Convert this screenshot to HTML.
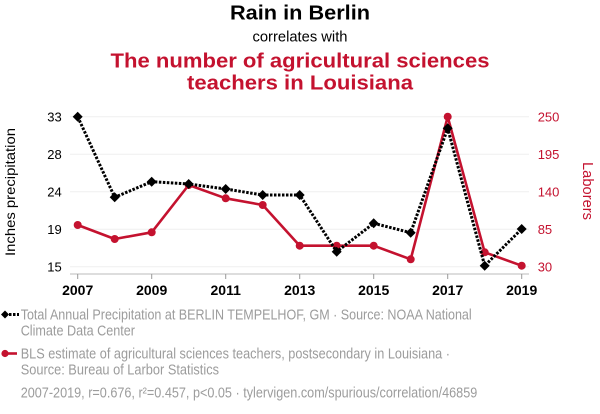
<!DOCTYPE html>
<html><head><meta charset="utf-8"><style>
html,body{margin:0;padding:0;background:#fff;}
svg{display:block;}
text{font-family:"Liberation Sans",Arial,sans-serif;}
</style></head><body>
<svg width="600" height="414" viewBox="0 0 600 414" xmlns="http://www.w3.org/2000/svg">
<rect width="600" height="414" fill="#fff"/>
<!-- titles -->
<text x="300" y="19.5" text-anchor="middle" font-size="20" font-weight="bold" fill="#000" textLength="140" lengthAdjust="spacingAndGlyphs">Rain in Berlin</text>
<text x="300" y="41.7" text-anchor="middle" font-size="14.5" fill="#000" textLength="95" lengthAdjust="spacingAndGlyphs">correlates with</text>
<text x="300" y="67.7" text-anchor="middle" font-size="20" font-weight="bold" fill="#c4122f" textLength="379" lengthAdjust="spacingAndGlyphs">The number of agricultural sciences</text>
<text x="300" y="89.3" text-anchor="middle" font-size="20" font-weight="bold" fill="#c4122f" textLength="226" lengthAdjust="spacingAndGlyphs">teachers in Louisiana</text>
<!-- gridlines -->
<g stroke="#efefef" stroke-width="1">
<line x1="70" y1="116.7" x2="529" y2="116.7"/>
<line x1="70" y1="154.2" x2="529" y2="154.2"/>
<line x1="70" y1="191.7" x2="529" y2="191.7"/>
<line x1="70" y1="229.2" x2="529" y2="229.2"/>
<line x1="70" y1="266.7" x2="529" y2="266.7"/>
</g>
<!-- x axis -->
<line x1="70" y1="274" x2="529" y2="274" stroke="#bbb" stroke-width="1"/>
<g stroke="#999" stroke-width="1">
<line x1="77.7" y1="274" x2="77.7" y2="279"/>
<line x1="151.7" y1="274" x2="151.7" y2="279"/>
<line x1="225.7" y1="274" x2="225.7" y2="279"/>
<line x1="299.7" y1="274" x2="299.7" y2="279"/>
<line x1="373.7" y1="274" x2="373.7" y2="279"/>
<line x1="447.7" y1="274" x2="447.7" y2="279"/>
<line x1="521.7" y1="274" x2="521.7" y2="279"/>
</g>
<g font-size="14" font-weight="bold" fill="#000" text-anchor="middle">
<text x="77.7" y="295">2007</text>
<text x="151.7" y="295">2009</text>
<text x="225.7" y="295">2011</text>
<text x="299.7" y="295">2013</text>
<text x="373.7" y="295">2015</text>
<text x="447.7" y="295">2017</text>
<text x="521.7" y="295">2019</text>
</g>
<!-- left ticks -->
<g font-size="13" fill="#000" text-anchor="end">
<text x="61.7" y="121.4">33</text>
<text x="61.7" y="158.9">28</text>
<text x="61.7" y="196.4">24</text>
<text x="61.7" y="233.9">19</text>
<text x="61.7" y="271.4">15</text>
</g>
<text transform="translate(15,192) rotate(-90)" text-anchor="middle" font-size="14" fill="#000" textLength="128" lengthAdjust="spacingAndGlyphs">Inches precipitation</text>
<!-- right ticks -->
<g font-size="13" fill="#c4122f" text-anchor="start">
<text x="537.7" y="121.4">250</text>
<text x="537.7" y="158.9">195</text>
<text x="537.7" y="196.4">140</text>
<text x="537.7" y="233.9">85</text>
<text x="537.7" y="271.4">30</text>
</g>
<text transform="translate(583,191) rotate(90)" text-anchor="middle" font-size="15" fill="#c4122f" textLength="58" lengthAdjust="spacingAndGlyphs">Laborers</text>
<!-- red series -->
<polyline fill="none" stroke="#c4122f" stroke-width="2.6" stroke-linejoin="round"
points="77.7,225 114.7,239 151.7,232.3 188.7,185 225.7,198.3 262.7,205 299.7,245.7 336.7,245.7 373.7,245.7 410.7,259.3 447.7,116.7 484.7,252.3 521.7,265.7"/>
<g fill="#c4122f">
<circle cx="77.7" cy="225" r="4"/><circle cx="114.7" cy="239" r="4"/><circle cx="151.7" cy="232.3" r="4"/>
<circle cx="188.7" cy="185" r="4"/><circle cx="225.7" cy="198.3" r="4"/><circle cx="262.7" cy="205" r="4"/>
<circle cx="299.7" cy="245.7" r="4"/><circle cx="336.7" cy="245.7" r="4"/><circle cx="373.7" cy="245.7" r="4"/>
<circle cx="410.7" cy="259.3" r="4"/><circle cx="447.7" cy="116.7" r="4"/><circle cx="484.7" cy="252.3" r="4"/>
<circle cx="521.7" cy="265.7" r="4"/>
</g>
<!-- black series -->
<polyline fill="none" stroke="#000" stroke-width="3" stroke-dasharray="2.5 1.5"
points="77.7,116.7 114.7,197.3 151.7,181.7 188.7,184 225.7,189 262.7,195 299.7,195 336.7,251.7 373.7,223.3 410.7,232.7 447.7,128.3 484.7,265.7 521.7,229"/>
<g fill="#000">
<path d="M77.7,111.7 l5,5 l-5,5 l-5,-5z"/>
<path d="M114.7,192.3 l5,5 l-5,5 l-5,-5z"/>
<path d="M151.7,176.7 l5,5 l-5,5 l-5,-5z"/>
<path d="M188.7,179 l5,5 l-5,5 l-5,-5z"/>
<path d="M225.7,184 l5,5 l-5,5 l-5,-5z"/>
<path d="M262.7,190 l5,5 l-5,5 l-5,-5z"/>
<path d="M299.7,190 l5,5 l-5,5 l-5,-5z"/>
<path d="M336.7,246.7 l5,5 l-5,5 l-5,-5z"/>
<path d="M373.7,218.3 l5,5 l-5,5 l-5,-5z"/>
<path d="M410.7,227.7 l5,5 l-5,5 l-5,-5z"/>
<path d="M447.7,123.3 l5,5 l-5,5 l-5,-5z"/>
<path d="M484.7,260.7 l5,5 l-5,5 l-5,-5z"/>
<path d="M521.7,224 l5,5 l-5,5 l-5,-5z"/>
</g>
<!-- legend -->
<line x1="5" y1="314.5" x2="19" y2="314.5" stroke="#000" stroke-width="3" stroke-dasharray="2.5 1.5"/>
<path d="M5,310.5 l4,4 l-4,4 l-4,-4z" fill="#000"/>
<line x1="5" y1="353.5" x2="17" y2="353.5" stroke="#c4122f" stroke-width="2.6"/>
<circle cx="5" cy="353.5" r="3.6" fill="#c4122f"/>
<g font-size="14.5" fill="#9c9c9c">
<text x="20.7" y="319.5" textLength="451" lengthAdjust="spacingAndGlyphs">Total Annual Precipitation at BERLIN TEMPELHOF, GM · Source: NOAA National</text>
<text x="20.7" y="335.5" textLength="114.3" lengthAdjust="spacingAndGlyphs">Climate Data Center</text>
<text x="20.7" y="358.5" textLength="429.3" lengthAdjust="spacingAndGlyphs">BLS estimate of agricultural sciences teachers, postsecondary in Louisiana ·</text>
<text x="20.7" y="374.5" textLength="198.3" lengthAdjust="spacingAndGlyphs">Source: Bureau of Larbor Statistics</text>
<text x="20.7" y="397.5" textLength="456.6" lengthAdjust="spacingAndGlyphs">2007-2019, r=0.676, r²=0.457, p&lt;0.05 · tylervigen.com/spurious/correlation/46859</text>
</g>
</svg>
</body></html>
